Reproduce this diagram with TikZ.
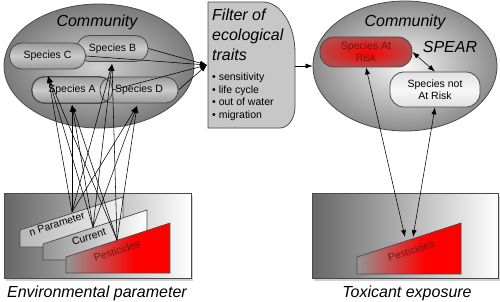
\documentclass[tikz,border=0pt]{standalone}
\usepackage{fontspec}
\setmainfont{Liberation Sans}
\usetikzlibrary{shapes.geometric,arrows.meta}
\definecolor{edge}{HTML}{4A4A4A}
\definecolor{pestred}{HTML}{7A1010}
\definecolor{riskouter}{HTML}{B84848}
\colorlet{pgA}{black!42}
\colorlet{pgB}{red}
\pgfdeclarehorizontalshading{pestshade}{100bp}{color(0bp)=(pgA); color(25bp)=(pgA); color(58bp)=(pgB); color(100bp)=(pgB)}
\begin{document}
\begin{tikzpicture}[x=1pt,y=-1pt,
  comm/.style={ellipse, draw=edge, line width=0.8pt, inner sep=0},
  spec/.style={draw=edge, line width=0.8pt, rounded corners=12.5pt, inner sep=0, minimum height=26pt, font=\fontsize{10.5}{12}\selectfont, align=center},
  grayspec/.style={spec, top color=black!40, bottom color=black!40, middle color=black!20},
  title/.style={font=\fontsize{16}{19}\selectfont\itshape},
  conn/.style={line width=0.55pt, -{Latex[length=7pt,width=5pt]}},
  dconn/.style={line width=0.55pt, {Latex[length=7pt,width=5pt]}-{Latex[length=7pt,width=5pt]}},
  panel/.style={draw=edge, line width=0.8pt, left color=black!60, right color=white},
  shadow/.style={fill=black!18},
  param/.style={draw=edge, line width=0.7pt},
  ptext/.style={font=\fontsize{10.5}{12}\selectfont, rotate=18},
]
\useasboundingbox (0,0) rectangle (500,302);
\fill[white] (0,0) rectangle (500,302);

% ---------- left community ----------
\node[comm, minimum width=190pt, minimum height=124pt, inner color=black!18, outer color=black!52] (Lell) at (99,66) {};
\node[title] (Lcomm) at (97,22) {Community};
\node[grayspec, minimum width=71pt] (B) at (112.5,48.5) {Species B};
\node[grayspec, minimum width=76pt] (C) at (47.5,56) {Species C};
\node[grayspec, minimum width=80pt] (A) at (72,90) {Species A};
\node[grayspec, minimum width=78pt] (D) at (139,90) {Species D};
\draw[edge, line width=0.8pt, rounded corners=12.5pt] (A.south west) rectangle (A.north east);

% ---------- filter ----------
\draw[edge, line width=0.8pt, fill=black!22]
  (208,2) -- (263,2) .. controls (280.6,2) and (295,25) .. (295,53)
  -- (295,107) .. controls (295,118.5) and (288,128) .. (280,128)
  -- (208,128) -- cycle;
\node[anchor=north west, inner sep=0, align=left, font=\fontsize{16}{20}\selectfont\itshape] (ftitle) at (212,9) {Filter of\\ecological\\traits};
\node[anchor=north west, inner sep=0, align=left, font=\fontsize{10.5}{12.5}\selectfont] (flist) at (212,73) {• sensitivity\\• life cycle\\• out of water\\• migration};
\coordinate (fin) at (207,65);
\coordinate (fout) at (295,66);

% ---------- right community ----------
\node[comm, minimum width=184pt, minimum height=130pt, inner color=black!3, outer color=black!45] (Rell) at (405,66) {};
\node[title] (Rcomm) at (405,22) {Community};
\node[title] (spear) at (450,47) {SPEAR};
\node[spec, minimum width=92pt, minimum height=30pt, rounded corners=14pt, inner color=red, outer color=riskouter, text=pestred] (AR) at (366,52) {Species At\\Risk};
\node[spec, minimum width=90pt, minimum height=35pt, rounded corners=14pt, top color=black!12, bottom color=black!12, middle color=black!3] (NR) at (435,89.5) {Species not\\At Risk};

% ---------- bottom panels ----------
\fill[shadow] (6,196) rectangle (193,281);
\node[panel, minimum width=187pt, minimum height=85pt, inner sep=0] (Lpan) at (97.5,235.5) {};
\fill[shadow] (314,196) rectangle (500,281);
\node[panel, minimum width=186pt, minimum height=85pt, inner sep=0] (Rpan) at (405,235.5) {};

\draw[param, left color=black!28, right color=black!5] (20,230) -- (123,197) -- (123,247) -- (20,247) -- cycle;
\node[ptext] (np) at (57,224) {n Parameter};
\draw[param, left color=black!42, right color=white] (43,244) -- (147,210) -- (147,260) -- (43,260) -- cycle;
\node[ptext] (cur) at (89,237) {Current};
\draw[param, shading=pestshade] (66,257) -- (170,223) -- (170,273) -- (66,273) -- cycle;
\node[ptext, text=pestred] (pestL) at (117,251) {Pesticides};
\draw[param, shading=pestshade] (357,257) -- (461,223) -- (461,274) -- (357,274) -- cycle;
\node[ptext, text=pestred] (pestR) at (411,251) {Pesticides};

\node[title] (envlab) at (97,293) {Environmental parameter};
\node[title] (toxlab) at (407,293) {Toxicant exposure};

% ---------- connectors ----------
\draw[conn] (B.east) -- (fin);
\draw[conn] (C.east) -- (fin);
\draw[conn] (A.east) -- (fin);
\draw[conn] (D.east) -- (fin);
\draw[conn] (fout) -- (Rell.west);

\coordinate (p1) at (72,212);
\coordinate (p2) at (93,227);
\coordinate (p3) at (117,240);
\coordinate (tC) at (48,76);
\coordinate (tB) at (112,64);
\coordinate (tA) at (72,105);
\coordinate (tD) at (137,106);
\foreach \s in {p1,p2,p3}
  \foreach \t in {tC,tB,tA,tD}
    \draw[conn] (\s) -- (\t);

\draw[dconn] (AR.east) -- (NR.north);
\coordinate (q1) at (405,237);
\coordinate (q2) at (413,237);
\draw[dconn] (AR.south) -- (q1);
\draw[dconn] (NR.south) -- (q2);
\end{tikzpicture}
\end{document}
